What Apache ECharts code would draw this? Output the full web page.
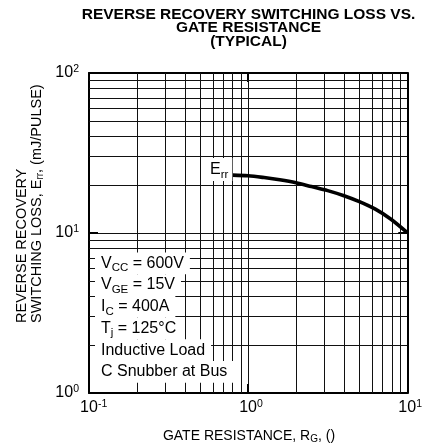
<!DOCTYPE html>
<html>
<head>
<meta charset="utf-8">
<script src="https://cdn.jsdelivr.net/npm/echarts@6/dist/echarts.min.js"></script>
<style>html,body{margin:0;padding:0;background:#fff;}#c{width:425px;height:445px;}</style>
</head>
<body>
<div id="c"></div>
<script>
// ---- data ----
const rg  = [0.8, 1, 1.26, 1.58, 2, 2.5, 3.16, 4, 5, 6.3, 7.9, 10];
const err = [23.0, 22.8, 22.2, 21.5, 20.6, 19.5, 18.4, 17.1, 15.7, 14.1, 12.2, 10.05];
const minorX = [0.2,0.3,0.4,0.5,0.6,0.7,0.8,0.9,2,3,4,5,6,7,8,9];
const minorY = [2,3,4,5,6,7,8,9,20,30,40,50,60,70,80,90];
const xRange = [0.1, 10];
const yRange = [1, 100];
const titleLines = ['REVERSE RECOVERY SWITCHING LOSS VS.', 'GATE RESISTANCE', '(TYPICAL)'];
const condText = [
  '{a|V}{s|CC}{a| = 600V}',
  '{a|V}{s|GE}{a| = 15V}',
  '{a|I}{s|C}{a| = 400A}',
  '{a|T}{s|j}{a| = 125°C}',
  '{a|Inductive Load}',
  '{a|C Snubber at Bus}'
];
const seriesLabel = '{a|E}{s|rr}';
const yName1 = '{a|REVERSE RECOVERY}';
const yName2 = '{a|SWITCHING LOSS, E}{s|rr}{a|, (mJ/PULSE)}';
const xName = '{a|GATE RESISTANCE, R}{s|G}{a|, ()}';

const FF = '"Liberation Sans", Arial, Helvetica, sans-serif';
const chart = echarts.init(document.getElementById('c'), null, {renderer: 'canvas'});

function textRich(base, sub, lh, subLh) {
  return {
    a: {fontSize: base, fontFamily: FF, color: '#000', lineHeight: lh, verticalAlign: 'middle'},
    s: {fontSize: sub, fontFamily: FF, color: '#000', lineHeight: subLh, verticalAlign: 'bottom'}
  };
}

const tickRich = {
  b: {fontSize: 16, fontFamily: FF, color: '#000', lineHeight: 18},
  p: {fontSize: 10.5, fontFamily: FF, color: '#000', lineHeight: 11.5, verticalAlign: 'top'},
  w1: {width: 5.8, fontSize: 10.5},
  w2: {width: 9.3, fontSize: 10.5}
};

const axisLineStyle = {show: true, lineStyle: {color: '#000', width: 2}};
const tickStyle = {show: true, inside: true, length: 9, lineStyle: {color: '#000', width: 2}};
const splitStyle = {show: true, lineStyle: {color: '#111', width: 1}};

const graphics = [];
const titleY = [14.3, 27.8, 41.3];
titleLines.forEach((t, i) => {
  graphics.push({
    type: 'text', x: 248.5, y: titleY[i], z: 50, silent: true,
    style: {text: t, font: 'bold 15.5px ' + FF, fill: '#000',
            align: 'center', textAlign: 'center', verticalAlign: 'middle', textVerticalAlign: 'middle'}
  });
});
condText.forEach((t, i) => {
  graphics.push({
    type: 'text', x: 95, y: 252.5 + i * 21.7, z: 50, silent: true,
    style: {text: t, rich: textRich(16, 11.5, 21.7, 12), fill: '#000',
            align: 'left', textAlign: 'left', verticalAlign: 'top', textVerticalAlign: 'top',
            backgroundColor: '#fff', padding: [0, 6, 0, 6]}
  });
});
graphics.push({
  type: 'text', x: 205, y: 158, z: 50, silent: true,
  style: {text: seriesLabel, rich: textRich(16, 11.5, 23, 12), fill: '#000',
          align: 'left', textAlign: 'left', verticalAlign: 'top', textVerticalAlign: 'top',
          backgroundColor: '#fff', padding: [0, 4, 0, 5]}
});
graphics.push({
  type: 'text', x: 22, y: 323, rotation: Math.PI / 2, z: 50, silent: true,
  style: {text: yName1, rich: textRich(14.5, 10, 16, 10), fill: '#000',
          align: 'left', textAlign: 'left', verticalAlign: 'middle', textVerticalAlign: 'middle'}
});
graphics.push({
  type: 'text', x: 37, y: 323, rotation: Math.PI / 2, z: 50, silent: true,
  style: {text: yName2, rich: textRich(14.5, 10, 16, 10), fill: '#000',
          align: 'left', textAlign: 'left', verticalAlign: 'middle', textVerticalAlign: 'middle'}
});
graphics.push({
  type: 'text', x: 249, y: 436, z: 50, silent: true,
  style: {text: xName, rich: textRich(14, 10, 16, 10), fill: '#000',
          align: 'center', textAlign: 'center', verticalAlign: 'middle', textVerticalAlign: 'middle'}
});

const option = {
  backgroundColor: '#fff',
  animation: false,
  grid: {left: 89, right: 15, top: 73, bottom: 52, containLabel: false},
  xAxis: [
    {type: 'log', logBase: 10, min: xRange[0], max: xRange[1], position: 'bottom',
     axisLine: axisLineStyle, axisTick: tickStyle, splitLine: splitStyle,
     axisLabel: {show: true, margin: 6, showMinLabel: true, showMaxLabel: true, rich: tickRich,
       formatter: v => { const e = Math.round(Math.log10(v)); return '{w' + (e < 0 ? '2' : '1') + '| }{b|10}{p|' + e + '}'; }}},
    {type: 'log', logBase: 10, min: xRange[0], max: xRange[1], position: 'top',
     axisLine: axisLineStyle, axisTick: tickStyle, splitLine: {show: false}, axisLabel: {show: false}}
  ],
  yAxis: [
    {type: 'log', logBase: 10, min: yRange[0], max: yRange[1], position: 'left',
     axisLine: axisLineStyle, axisTick: tickStyle, splitLine: splitStyle,
     axisLabel: {show: true, margin: 10, showMinLabel: true, showMaxLabel: true, rich: tickRich,
       formatter: v => { const e = Math.round(Math.log10(v)); return '{b|10}{p|' + e + '}'; }}},
    {type: 'log', logBase: 10, min: yRange[0], max: yRange[1], position: 'right',
     axisLine: axisLineStyle, axisTick: tickStyle, splitLine: {show: false}, axisLabel: {show: false}}
  ],
  series: [{
    type: 'line', z: 10, xAxisIndex: 0, yAxisIndex: 0,
    data: rg.map((x, i) => [x, err[i]]),
    smooth: 0.3, showSymbol: false, symbol: 'none',
    lineStyle: {color: '#000', width: 3.6},
    markLine: {
      silent: true, z: 3, symbol: ['none', 'none'], animation: false,
      label: {show: false},
      lineStyle: {type: 'solid', color: '#111', width: 1},
      emphasis: {disabled: true},
      data: minorX.map(v => ({xAxis: v})).concat(minorY.map(v => ({yAxis: v})))
    }
  }],
  graphic: graphics
};
chart.setOption(option);
</script>
</body>
</html>
